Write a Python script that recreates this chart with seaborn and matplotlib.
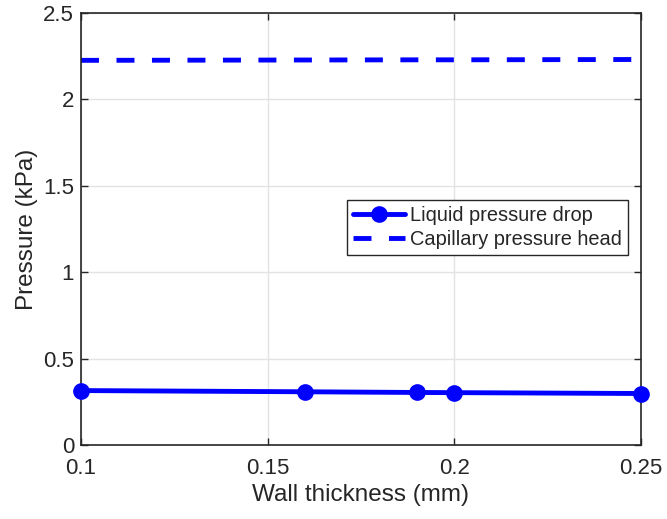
import matplotlib
matplotlib.use("Agg")
import matplotlib.pyplot as plt
import seaborn as sns
import pandas as pd

wall_thickness = [0.10, 0.16, 0.19, 0.20, 0.25]
liquid_drop = [0.315, 0.308, 0.304, 0.303, 0.298]
capillary_head = [2.226, 2.228, 2.229, 2.229, 2.231]
xticks = [0.10, 0.15, 0.20, 0.25]
xticklabels = ["0.1", "0.15", "0.2", "0.25"]
yticks = [0, 0.5, 1, 1.5, 2, 2.5]
yticklabels = ["0", "0.5", "1", "1.5", "2", "2.5"]

sns.set_theme(style="whitegrid")
plt.rcParams['font.family'] = ['Liberation Sans', 'DejaVu Sans']

fig = plt.figure(figsize=(6.67, 5.19), dpi=100)
ax = fig.add_axes([81/667, 74/519, 560/667, 432/519])

df1 = pd.DataFrame({"x": wall_thickness, "y": liquid_drop})
df2 = pd.DataFrame({"x": wall_thickness, "y": capillary_head})

sns.lineplot(data=df1, x="x", y="y", ax=ax, color="#0000ff", linewidth=3.5,
             marker="o", markersize=10, markeredgewidth=2, markeredgecolor="#0000ff",
             label="Liquid pressure drop", clip_on=False, zorder=5)
sns.lineplot(data=df2, x="x", y="y", ax=ax, color="#0000ff", linewidth=3.5,
             label="Capillary pressure head")
ax.lines[1].set_dashes((3.7, 3.6))

ax.set_xlim(0.1, 0.25)
ax.set_ylim(0, 2.5)
ax.set_xticks(xticks)
ax.set_xticklabels(xticklabels)
ax.set_yticks(yticks)
ax.set_yticklabels(yticklabels)
ax.set_xlabel("Wall thickness (mm)", fontsize=17.5, color="#262626", labelpad=4)
ax.set_ylabel("Pressure (kPa)", fontsize=17.5, color="#262626", labelpad=4)
ax.set_facecolor("white")
ax.grid(True, color="#e3e3e3", linewidth=1)
for s in ax.spines.values():
    s.set_visible(True)
    s.set_color("#262626")
    s.set_linewidth(1.2)
ax.tick_params(axis="both", which="both", direction="in", length=5, width=1,
               colors="#262626", labelsize=16, top=True, right=True,
               bottom=True, left=True)
ax.tick_params(axis="y", pad=5)
ax.tick_params(axis="x", pad=9)

leg = ax.legend(loc="upper right", bbox_to_anchor=(0.977, 0.567), fontsize=14.4,
                frameon=True, fancybox=False, framealpha=1, edgecolor="#262626",
                handlelength=2.6, handletextpad=0.25, borderpad=0.3, labelspacing=0.25,
                borderaxespad=0)
leg.get_frame().set_linewidth(1)

fig.savefig("out.png", dpi=100)
